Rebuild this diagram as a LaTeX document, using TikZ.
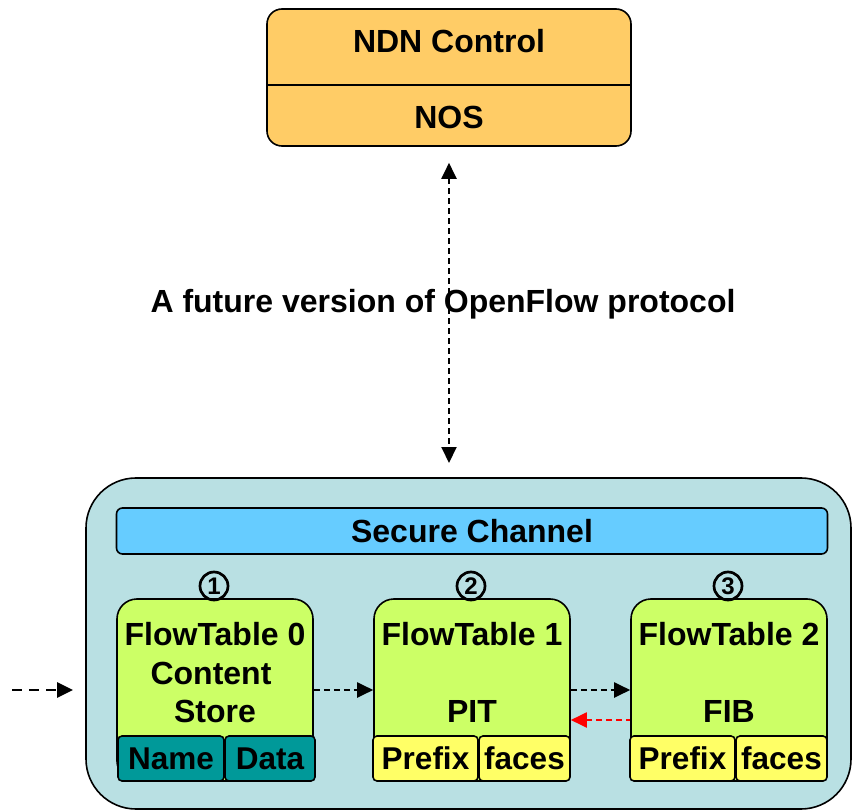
\documentclass[tikz,border=0pt]{standalone}
\usepackage{fontspec}
\setmainfont{Liberation Sans}
\usetikzlibrary{arrows.meta,calc}
\definecolor{ctlfill}{HTML}{FFCC66}
\definecolor{swfill}{HTML}{B9E0E3}
\definecolor{chfill}{HTML}{66CCFF}
\definecolor{ftfill}{HTML}{CCFF66}
\definecolor{cellteal}{HTML}{009999}
\definecolor{cellyel}{HTML}{FFFF66}
\begin{document}
\begin{tikzpicture}[x=1pt,y=-1pt,
  lbl/.style={font=\fontsize{32}{38}\selectfont\bfseries, inner sep=0pt, align=center},
  shell/.style={draw=black, line width=1.6pt, inner sep=0pt},
  ftbox/.style={shell, fill=ftfill, rounded corners=20pt, minimum width=196pt, minimum height=182pt},
  cell/.style={shell, rounded corners=4pt, minimum height=45pt,
    font=\fontsize{31.5}{37}\selectfont\bfseries},
  stepnum/.style={circle, draw=black, line width=2.7pt, minimum size=28pt, inner sep=0pt,
    font=\fontsize{24}{26}\selectfont\bfseries},
  flow/.style={dash pattern=on 6pt off 4pt, line width=2pt, -{Triangle[length=16pt,width=15pt]}},
]
\useasboundingbox (0,0) rectangle (852,810);

% controller
\node[shell, fill=ctlfill, rounded corners=15pt, minimum width=364pt, minimum height=137pt]
  (ctl) at (449,77.5) {};
\draw[line width=1.6pt] (ctl.west |- 0,85) -- (ctl.east |- 0,85);
\node[lbl] (ndn) at (449,41) {NDN Control};
\node[lbl] (nos) at (449,117) {NOS};

% switch
\node[shell, fill=swfill, rounded corners=50pt, minimum width=765pt, minimum height=331pt]
  (sw) at (468.5,643.5) {};
\node[shell, fill=chfill, rounded corners=6pt, minimum width=711pt, minimum height=46pt]
  (chan) at (472,531) {};
\node[lbl] (chantxt) at (472,531) {Secure Channel};

% control channel
\coordinate (cTop) at ($(ctl.south)+(0,16)$);
\coordinate (cBot) at (449,463);
\draw[flow, {Triangle[length=16pt,width=15pt]}-{Triangle[length=16pt,width=15pt]}] (cTop) -- (cBot);
\node[lbl] (proto) at (443,304) {A future version of OpenFlow protocol};

% flow tables
\node[ftbox] (ft0) at (215,690) {};
\node[ftbox] (ft1) at (472,690) {};
\node[ftbox] (ft2) at (729,690) {};

\node[lbl] (ft0a) at (215,634) {FlowTable 0};
\node[lbl] (ft0b) at (211,673) {Content};
\node[lbl] (ft0c) at (215,711) {Store};
\node[lbl] (ft1a) at (472,634) {FlowTable 1};
\node[lbl] (ft1b) at (472,711) {PIT};
\node[lbl] (ft2a) at (729,634) {FlowTable 2};
\node[lbl] (ft2b) at (729,711) {FIB};

\node[cell, fill=cellteal, minimum width=106pt] (name0) at (171,758.5) {Name};
\node[cell, fill=cellteal, minimum width=90pt] (data0) at (270,758.5) {Data};
\node[cell, fill=cellyel, minimum width=105pt] (pre1) at (425.5,758.5) {Prefix};
\node[cell, fill=cellyel, minimum width=91pt] (fac1) at (524.5,758.5) {faces};
\node[cell, fill=cellyel, minimum width=105pt] (pre2) at (682.5,758.5) {Prefix};
\node[cell, fill=cellyel, minimum width=91pt] (fac2) at (781.5,758.5) {faces};

\node[stepnum] (s1) at (214,586) {1};
\node[stepnum] (s2) at (471,586) {2};
\node[stepnum] (s3) at (728,586) {3};

% packet path
\coordinate (inS) at (12,690);
\coordinate (inE) at (73,690);
\draw[flow, line width=2.8pt, dash pattern=on 10pt off 7pt] (inS) -- (inE);
\draw[flow] (ft0.east) -- (ft1.west);
\draw[flow] (ft1.east) -- (ft2.west);
\draw[flow, draw=red, {Triangle[length=16pt,width=15pt,red]}-] ([yshift=-30pt]ft1.east) -- ([yshift=-30pt]ft2.west);
\end{tikzpicture}
\end{document}
